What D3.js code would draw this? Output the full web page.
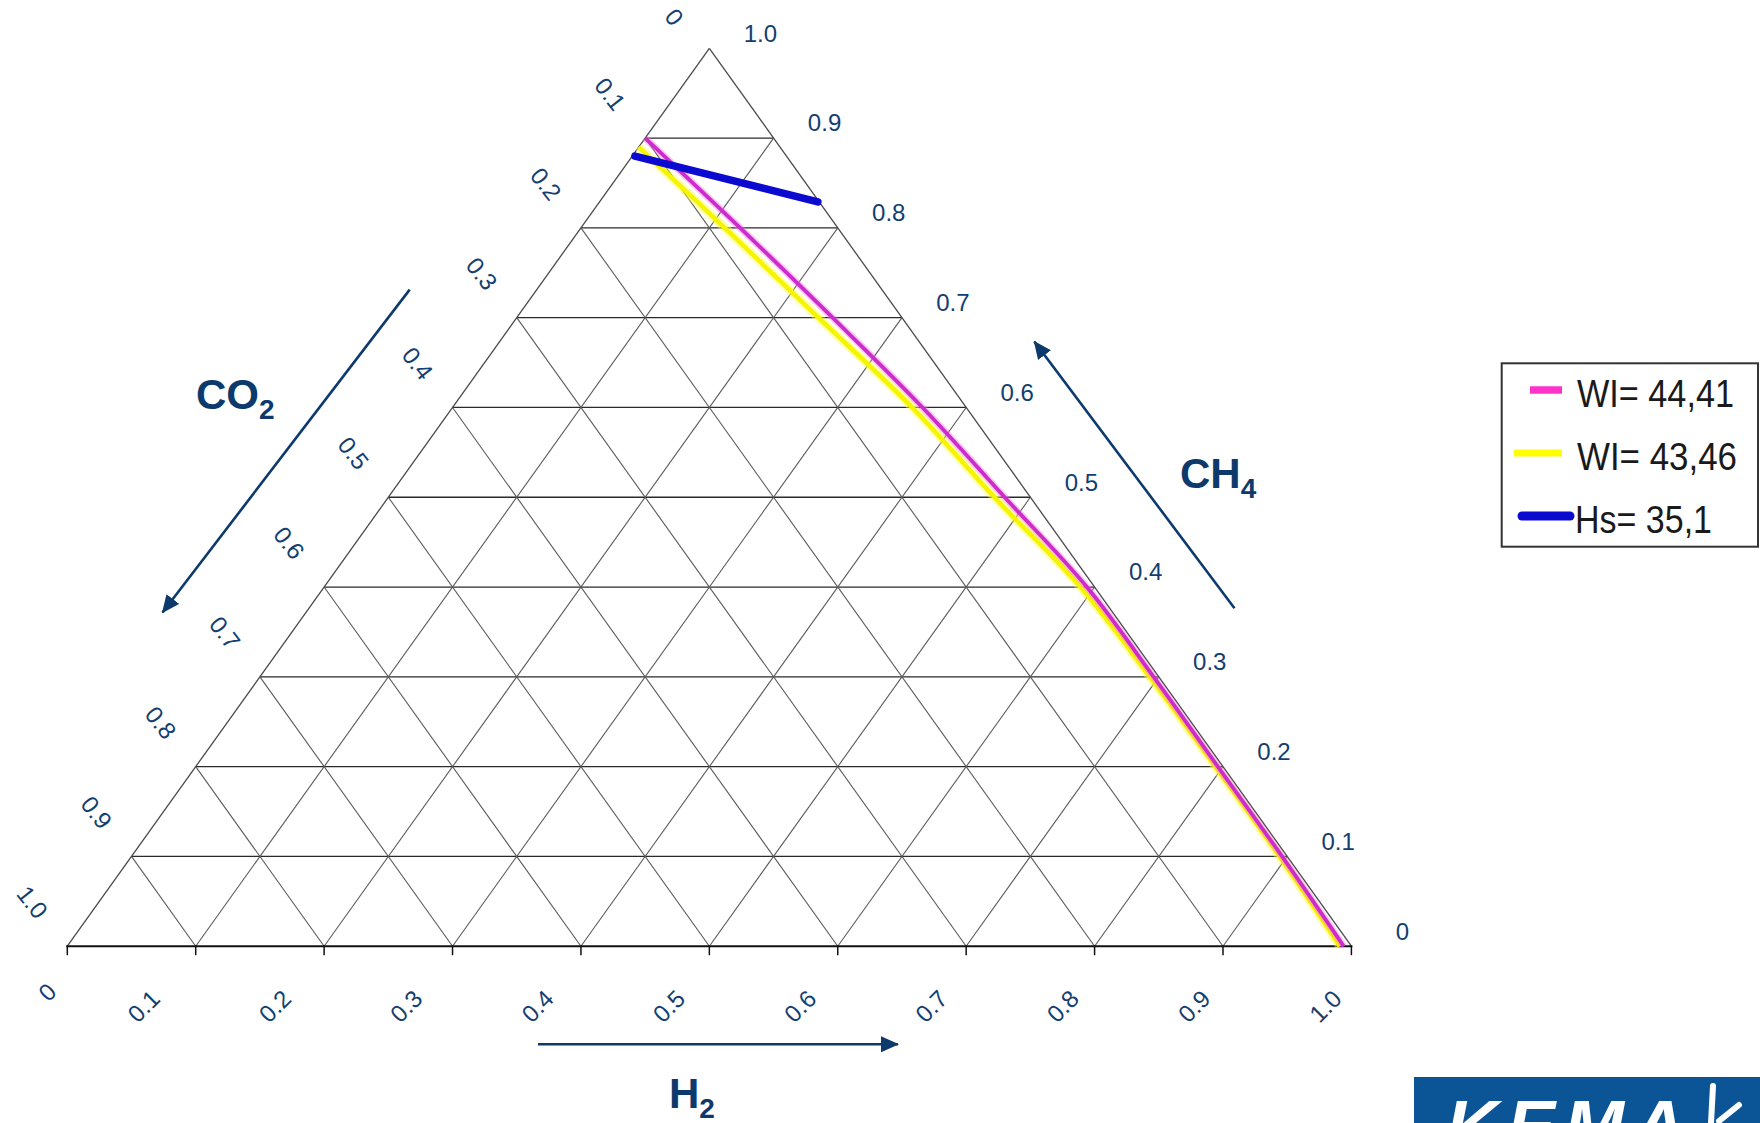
<!DOCTYPE html>
<html><head><meta charset="utf-8">
<script src="https://cdn.jsdelivr.net/npm/d3@7"></script>
<style>
html,body{margin:0;padding:0;background:#fff;}
svg{display:block;font-family:"Liberation Sans",Arial,sans-serif;}
</style></head>
<body><svg id="c" width="1760" height="1123"></svg>
<script>
// ---------- data ----------
const tickValues = [0, 0.1, 0.2, 0.3, 0.4, 0.5, 0.6, 0.7, 0.8, 0.9, 1.0];
const tickLabels = ["0", "0.1", "0.2", "0.3", "0.4", "0.5", "0.6", "0.7", "0.8", "0.9", "1.0"];
const gridValues = [0.1, 0.2, 0.3, 0.4, 0.5, 0.6, 0.7, 0.8, 0.9];

// WI = 44,41 (magenta) : CH4 fraction and CO2 fraction along the curve (H2 = rest)
const wi4441_ch4 = [0.900, 0.800, 0.700, 0.600, 0.500, 0.400, 0.300, 0.200, 0.100, 0.000];
const wi4441_co2 = [0.100, 0.076, 0.054, 0.034, 0.020, 0.006, 0.004, 0.004, 0.004, 0.006];
// WI = 43,46 (yellow)
const wi4346_ch4 = [0.890, 0.800, 0.700, 0.600, 0.500, 0.400, 0.300, 0.200, 0.100, 0.000];
const wi4346_co2 = [0.110, 0.088, 0.065, 0.042, 0.028, 0.011, 0.007, 0.006, 0.006, 0.009];
// Hs = 35,1 (blue)
const hs351_ch4 = [0.880, 0.829];
const hs351_co2 = [0.118, 0.001];

const seriesNames = ["WI= 44,41", "WI= 43,46", "Hs= 35,1"];

// ---------- layout ----------
const svg = d3.select("#c");
const L = 67.3, R = 1351.4, TOP = 48.3, BASE = 946.2;
const xs = d3.scaleLinear().domain([0, 1]).range([L, R]);
const ys = d3.scaleLinear().domain([0, 1]).range([BASE, TOP]);
// ternary projection: h2 along bottom, ch4 upwards
const P = (h2, ch4) => [xs(h2 + ch4 / 2), ys(ch4)];
const labelColor = "#123e70";
const titleColor = "#0d3a6c";

svg.append("rect").attr("width", 1760).attr("height", 1123).attr("fill", "#fff");

const grid = svg.append("g");
// horizontal lines (constant CH4)
gridValues.forEach(v => {
  const a = P(0, v), b = P(1 - v, v);
  grid.append("line").attr("x1", a[0]).attr("y1", a[1]).attr("x2", b[0]).attr("y2", b[1])
    .attr("stroke", "#2a2a2a").attr("stroke-width", 1.3);
});
// constant H2 (parallel to left edge)
gridValues.forEach(v => {
  const a = P(v, 0), b = P(v, 1 - v);
  grid.append("line").attr("x1", a[0]).attr("y1", a[1]).attr("x2", b[0]).attr("y2", b[1])
    .attr("stroke", "#5a5a5a").attr("stroke-width", 1.1);
});
// constant CO2 (parallel to right edge)
gridValues.forEach(v => {
  const a = P(1 - v, 0), b = P(0, 1 - v);
  grid.append("line").attr("x1", a[0]).attr("y1", a[1]).attr("x2", b[0]).attr("y2", b[1])
    .attr("stroke", "#5a5a5a").attr("stroke-width", 1.1);
});
// outer edges
const A = P(0, 0), B = P(1, 0), C = P(0, 1);
grid.append("line").attr("x1", A[0]).attr("y1", A[1]).attr("x2", C[0]).attr("y2", C[1]).attr("stroke", "#4a4a4a").attr("stroke-width", 1.3);
grid.append("line").attr("x1", B[0]).attr("y1", B[1]).attr("x2", C[0]).attr("y2", C[1]).attr("stroke", "#4a4a4a").attr("stroke-width", 1.3);
grid.append("line").attr("x1", A[0] - 1).attr("y1", A[1]).attr("x2", B[0] + 1).attr("y2", B[1]).attr("stroke", "#111").attr("stroke-width", 2);
// bottom ticks
tickValues.forEach(v => {
  const p = P(v, 0);
  grid.append("line").attr("x1", p[0]).attr("y1", p[1]).attr("x2", p[0]).attr("y2", p[1] + 9)
    .attr("stroke", "#111").attr("stroke-width", 1.5);
});

// ---------- tick labels ----------
const lab = svg.append("g").attr("fill", labelColor).attr("font-size", 24);
// H2 (bottom)
tickValues.forEach((v, i) => {
  const p = P(v, 0);
  const single = tickLabels[i].length === 1;
  const x = p[0] + (single ? -20 : -55 + 29 * v), y = p[1] + (single ? 46 : 60);
  lab.append("text").attr("transform", `translate(${x},${y}) rotate(-45)`)
    .attr("text-anchor", "middle").attr("dy", "0.35em").text(tickLabels[i]);
});
// CO2 (left edge)
tickValues.forEach((v, i) => {
  const p = P(0, 1 - v);
  const x = p[0] - 35, y = Math.max(p[1] - 44, 17);
  lab.append("text").attr("transform", `translate(${x},${y}) rotate(52)`)
    .attr("text-anchor", "middle").attr("dy", "0.35em").text(tickLabels[i]);
});
// CH4 (right edge)
tickValues.forEach((v, i) => {
  const p = P(1 - v, v);
  lab.append("text").attr("x", p[0] + 51).attr("y", p[1] - 15)
    .attr("text-anchor", "middle").attr("dy", "0.35em").text(tickLabels[i]);
});

// ---------- axis arrows & titles ----------
const defs = svg.append("defs");
defs.append("marker").attr("id", "ah").attr("viewBox", "0 0 18 16").attr("refX", 17).attr("refY", 8)
  .attr("markerWidth", 18).attr("markerHeight", 16).attr("markerUnits", "userSpaceOnUse")
  .attr("orient", "auto").append("path").attr("d", "M0,0 L18,8 L0,16 Z").attr("fill", titleColor);
const arrows = [
  [[409.7, 289.6], [162.5, 612.5]],   // CO2
  [[1234.5, 608.3], [1034.3, 341.5]], // CH4
  [[538, 1044.3], [898, 1044.3]]      // H2
];
arrows.forEach(a => {
  svg.append("line").attr("x1", a[0][0]).attr("y1", a[0][1]).attr("x2", a[1][0]).attr("y2", a[1][1])
    .attr("stroke", titleColor).attr("stroke-width", 2.6).attr("marker-end", "url(#ah)");
});
function title(x, y, main, sub) {
  const t = svg.append("text").attr("x", x).attr("y", y).attr("fill", titleColor)
    .attr("font-weight", "bold").attr("font-size", 42);
  t.append("tspan").text(main);
  t.append("tspan").attr("font-size", 28).attr("dy", 10).text(sub);
}
title(196, 408.5, "CO", "2");
title(1180, 487.5, "CH", "4");
title(669, 1108, "H", "2");

// ---------- data lines ----------
const line = d3.line().x(d => d[0]).y(d => d[1]).curve(d3.curveCatmullRom.alpha(0.5));
const toPts = (ch4, co2) => ch4.map((c, i) => P(1 - c - co2[i], c));
svg.append("path").attr("d", line(toPts(wi4346_ch4, wi4346_co2))).attr("fill", "none")
  .attr("stroke", "#ffff4a").attr("stroke-opacity", 0.45).attr("stroke-width", 9);
svg.append("path").attr("d", line(toPts(wi4346_ch4, wi4346_co2))).attr("fill", "none")
  .attr("stroke", "#f5f500").attr("stroke-width", 4.5);
svg.append("path").attr("d", line(toPts(wi4441_ch4, wi4441_co2))).attr("fill", "none")
  .attr("stroke", "#ff70e0").attr("stroke-opacity", 0.4).attr("stroke-width", 7);
svg.append("path").attr("d", line(toPts(wi4441_ch4, wi4441_co2))).attr("fill", "none")
  .attr("stroke", "#cc2ccc").attr("stroke-width", 3.8);
svg.append("path").attr("d", d3.line()(toPts(hs351_ch4, hs351_co2))).attr("fill", "none")
  .attr("stroke", "#0a0ad0").attr("stroke-width", 7.5).attr("stroke-linecap", "round");

// ---------- legend ----------
const lg = svg.append("g");
lg.append("rect").attr("x", 1501.7).attr("y", 363.3).attr("width", 256.3).attr("height", 183.4)
  .attr("fill", "#fff").attr("stroke", "#333").attr("stroke-width", 2);
const legendSw = [
  {x1: 1530, x2: 1562, color: "#ff33cc", w: 7.5, cap: "butt"},
  {x1: 1514, x2: 1562, color: "#ffff00", w: 7, cap: "butt"},
  {x1: 1522, x2: 1570, color: "#0a0ad0", w: 9, cap: "round"}
];
const legendLen = [157, 160, 137];
seriesNames.forEach((n, i) => {
  const cy = 390 + i * 63;
  const s = legendSw[i];
  lg.append("line").attr("x1", s.x1).attr("x2", s.x2).attr("y1", cy).attr("y2", cy)
    .attr("stroke", s.color).attr("stroke-width", s.w).attr("stroke-linecap", s.cap);
  lg.append("text").attr("x", i === 2 ? 1575 : 1577).attr("y", cy + 16.5).attr("font-size", 39)
    .attr("fill", "#1a1a1a").attr("textLength", legendLen[i]).attr("lengthAdjust", "spacingAndGlyphs").text(n);
});

// ---------- logo ----------
const logo = svg.append("g");
logo.append("rect").attr("x", 1414).attr("y", 1077).attr("width", 346).attr("height", 46).attr("fill", "#0b5596");
logo.append("text").attr("x", 1446).attr("y", 1151).attr("font-size", 72).attr("font-weight", "bold")
  .attr("font-style", "italic").attr("letter-spacing", 9).attr("fill", "#fff").text("KEMA");
logo.append("path").attr("d", "M1713,1086 L1711,1123 M1739,1105 L1719,1121").attr("stroke", "#fff")
  .attr("stroke-width", 6).attr("stroke-linecap", "round").attr("fill", "none");
</script></body></html>
